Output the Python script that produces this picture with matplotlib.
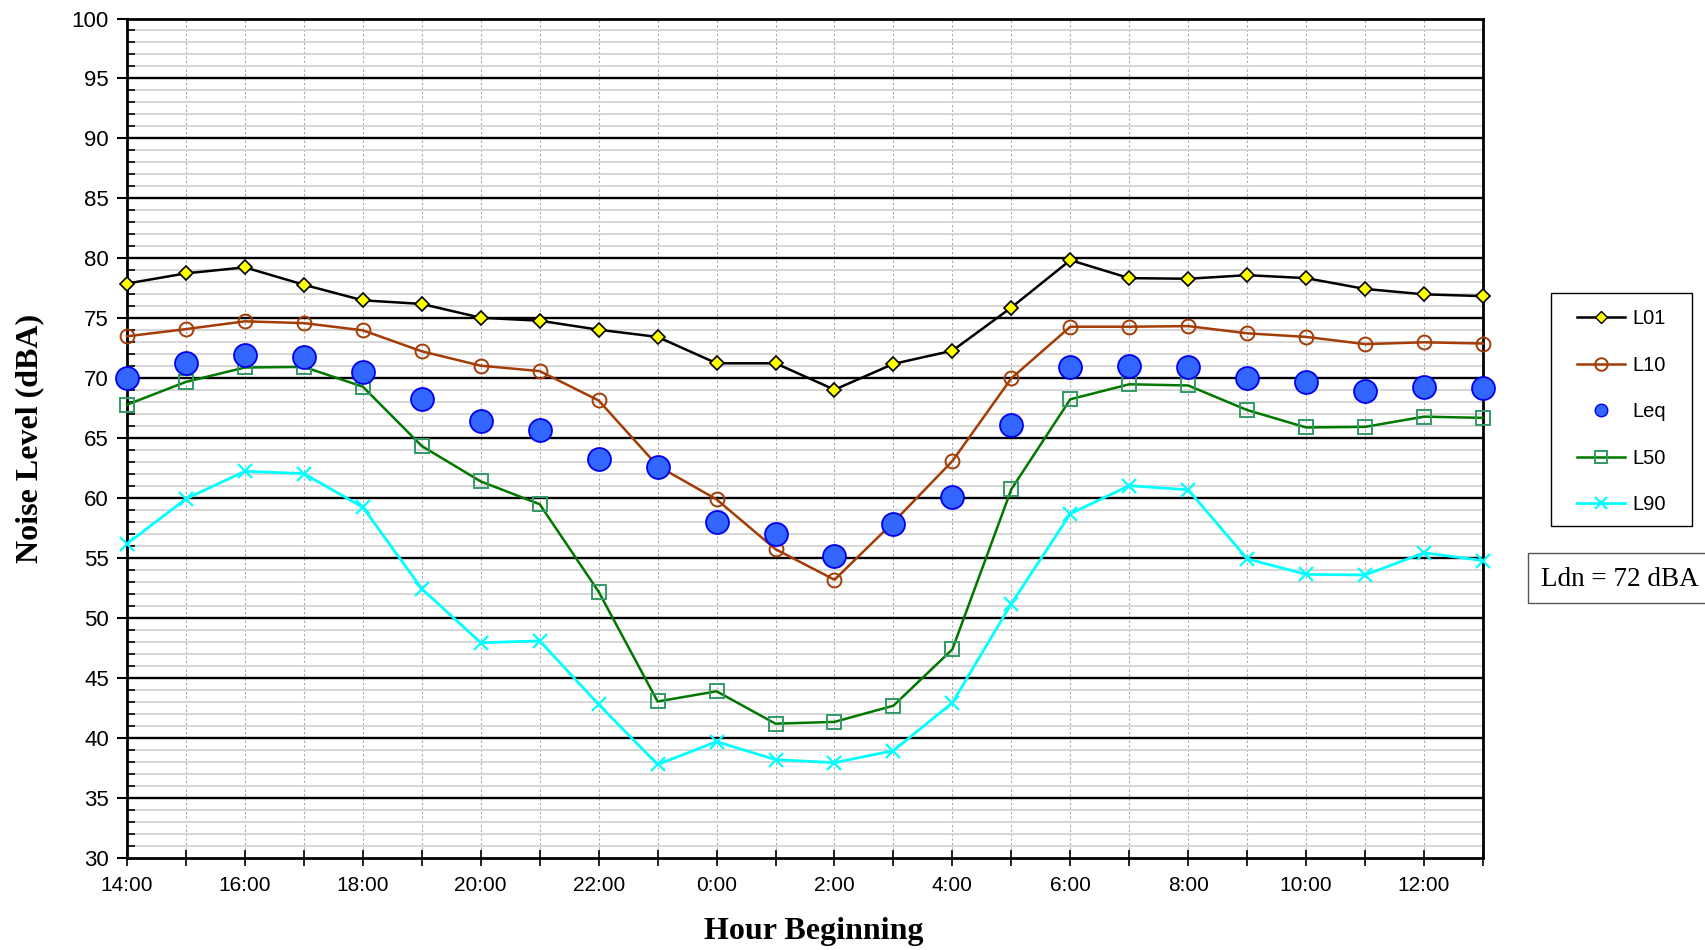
import numpy as np
import matplotlib
matplotlib.use("Agg")
import matplotlib.pyplot as plt
from matplotlib.lines import Line2D
from matplotlib.patches import Rectangle
from matplotlib.ticker import MultipleLocator

# hourly noise levels, hour beginning 14:00 through 13:00 next day
hours = [14, 15, 16, 17, 18, 19, 20, 21, 22, 23, 0, 1, 2, 3, 4, 5, 6, 7, 8, 9, 10, 11, 12, 13]
L01 = [77.9, 78.75, 79.25, 77.8, 76.5, 76.2, 75.05, 74.8, 74.05, 73.45, 71.25, 71.25,
       69.05, 71.2, 72.3, 75.9, 79.85, 78.35, 78.3, 78.6, 78.35, 77.45, 77.0, 76.85]
L10 = [73.5, 74.1, 74.75, 74.6, 74.0, 72.25, 71.05, 70.6, 68.15, 62.7, 59.9, 55.75,
       53.2, 58.0, 63.1, 70.0, 74.3, 74.3, 74.35, 73.75, 73.45, 72.85, 73.0, 72.9]
Leq = [70.0, 71.3, 71.95, 71.75, 70.5, 68.25, 66.4, 65.7, 63.3, 62.6, 58.05, 57.05,
       55.15, 57.85, 60.1, 66.1, 70.95, 71.0, 70.9, 70.05, 69.7, 68.95, 69.25, 69.2]
L50 = [67.8, 69.7, 70.9, 70.95, 69.3, 64.35, 61.4, 59.5, 52.2, 43.05, 43.9, 41.2,
       41.35, 42.7, 47.4, 60.75, 68.25, 69.5, 69.4, 67.35, 65.9, 65.95, 66.8, 66.7]
L90 = [56.2, 59.95, 62.25, 62.05, 59.25, 52.45, 47.95, 48.1, 42.8, 37.8, 39.7, 38.2,
       37.95, 38.95, 42.95, 51.2, 58.7, 61.05, 60.7, 54.95, 53.65, 53.6, 55.45, 54.8]
ldn_text = "Ldn = 72 dBA"

x = np.arange(len(hours))
tick_labels = [f"{h}:00" if i % 2 == 0 else "" for i, h in enumerate(hours)]

sans = ["Liberation Sans", "DejaVu Sans"]
serif = ["Liberation Serif", "DejaVu Serif"]

fig = plt.figure(figsize=(17.05, 9.5), dpi=100)
ax = fig.add_axes([127 / 1705, 1 - 858 / 950, (1483 - 127) / 1705, (858 - 18.5) / 950])

# grid: light minor every 1 dBA, black major every 5, dotted verticals per hour
for v in range(31, 100):
    if v % 5:
        ax.axhline(v, color="#d6d6d6", lw=1.4, zorder=0.5)
for v in range(35, 100, 5):
    ax.axhline(v, color="black", lw=1.7, zorder=0.6)
for xi in x[1:-1]:
    ax.axvline(xi, color="#a8a8a8", lw=0.8, ls=(0, (2, 2)), zorder=0.4)

ax.plot(x, L01, color="black", lw=1.8, marker="D", ms=7, mfc="#ffff00", mec="black", mew=1.2,
        zorder=6, clip_on=False)
ax.plot(x, L10, color="#a33c05", lw=1.8, marker="o", ms=10, mfc="none", mec="#a33c05", mew=1.4,
        zorder=6, clip_on=False)
ax.plot(x, L50, color="#007800", lw=1.8, marker="s", ms=9.5, mfc="none", mec="#339966", mew=1.4,
        zorder=6, clip_on=False)
ax.plot(x, L90, color="#00ffff", lw=2.0, marker="x", ms=10, mec="#00ffff", mew=1.6,
        zorder=6, clip_on=False)
ax.plot(x, Leq, ls="none", marker="o", ms=16.5, mfc="#3366ff", mec="#0000ee", mew=1.3,
        zorder=7, clip_on=False)

ax.set_xlim(0, len(hours) - 1)
ax.set_ylim(30, 100)
ax.set_xticks(x)
ax.set_xticklabels(tick_labels, fontfamily=sans, fontsize=15)
ax.yaxis.set_major_locator(MultipleLocator(5))
ax.yaxis.set_minor_locator(MultipleLocator(1))
for lab in ax.get_yticklabels():
    lab.set_fontfamily(sans)
ax.tick_params(axis="y", which="major", direction="out", length=7, width=1.5, labelsize=16, pad=6)
ax.tick_params(axis="y", which="minor", direction="in", length=6, width=1.2)
ax.tick_params(axis="x", which="major", direction="inout", length=12, width=1.2, labelsize=15, pad=7)
for sp in ax.spines.values():
    sp.set_linewidth(2)
    sp.set_zorder(5)

ax.set_xlabel("Hour Beginning", fontfamily=serif, fontweight="bold", fontsize=23)
ax.xaxis.set_label_coords(0.5066, -0.087)
ax.xaxis.label.set_va("center")
ax.set_ylabel("Noise Level (dBA)", fontfamily=serif, fontweight="bold", fontsize=23, labelpad=20)

# legend: frame drawn separately so the handles can sit further in
handles = [
    Line2D([], [], color="black", lw=1.8, marker="D", ms=6.5, mfc="#ffff00", mec="black"),
    Line2D([], [], color="#a33c05", lw=1.8, marker="o", ms=9, mfc="none", mec="#a33c05", mew=1.4),
    Line2D([], [], ls="none", marker="o", ms=9, mfc="#3366ff", mec="#0000ee"),
    Line2D([], [], color="#007800", lw=1.8, marker="s", ms=8.5, mfc="none", mec="#339966", mew=1.4),
    Line2D([], [], color="#00ffff", lw=2.0, marker="x", ms=9, mec="#00ffff", mew=1.6),
]
fig.legend(handles, ["L01", "L10", "Leq", "L50", "L90"], loc="upper left",
           bbox_to_anchor=(1577 / 1705, 1 - 309.5 / 950), prop={"family": sans, "size": 14.5},
           frameon=False, labelspacing=1.36, handlelength=2.4, handletextpad=0.35,
           borderpad=0, borderaxespad=0)
fig.patches.append(Rectangle((1551 / 1705, 1 - 526 / 950), 141 / 1705, 233 / 950,
                             transform=fig.transFigure, fill=False, edgecolor="black", lw=1.0))

fig.patches.append(Rectangle((1528 / 1705, 1 - 603 / 950), 0.2, 50 / 950,
                             transform=fig.transFigure, fill=False, edgecolor="#555555", lw=1.0))
fig.text(1541 / 1705, 1 - 579 / 950, ldn_text, fontfamily=serif, fontsize=19.5, va="center", ha="left")

fig.savefig("out.png", dpi=100)
